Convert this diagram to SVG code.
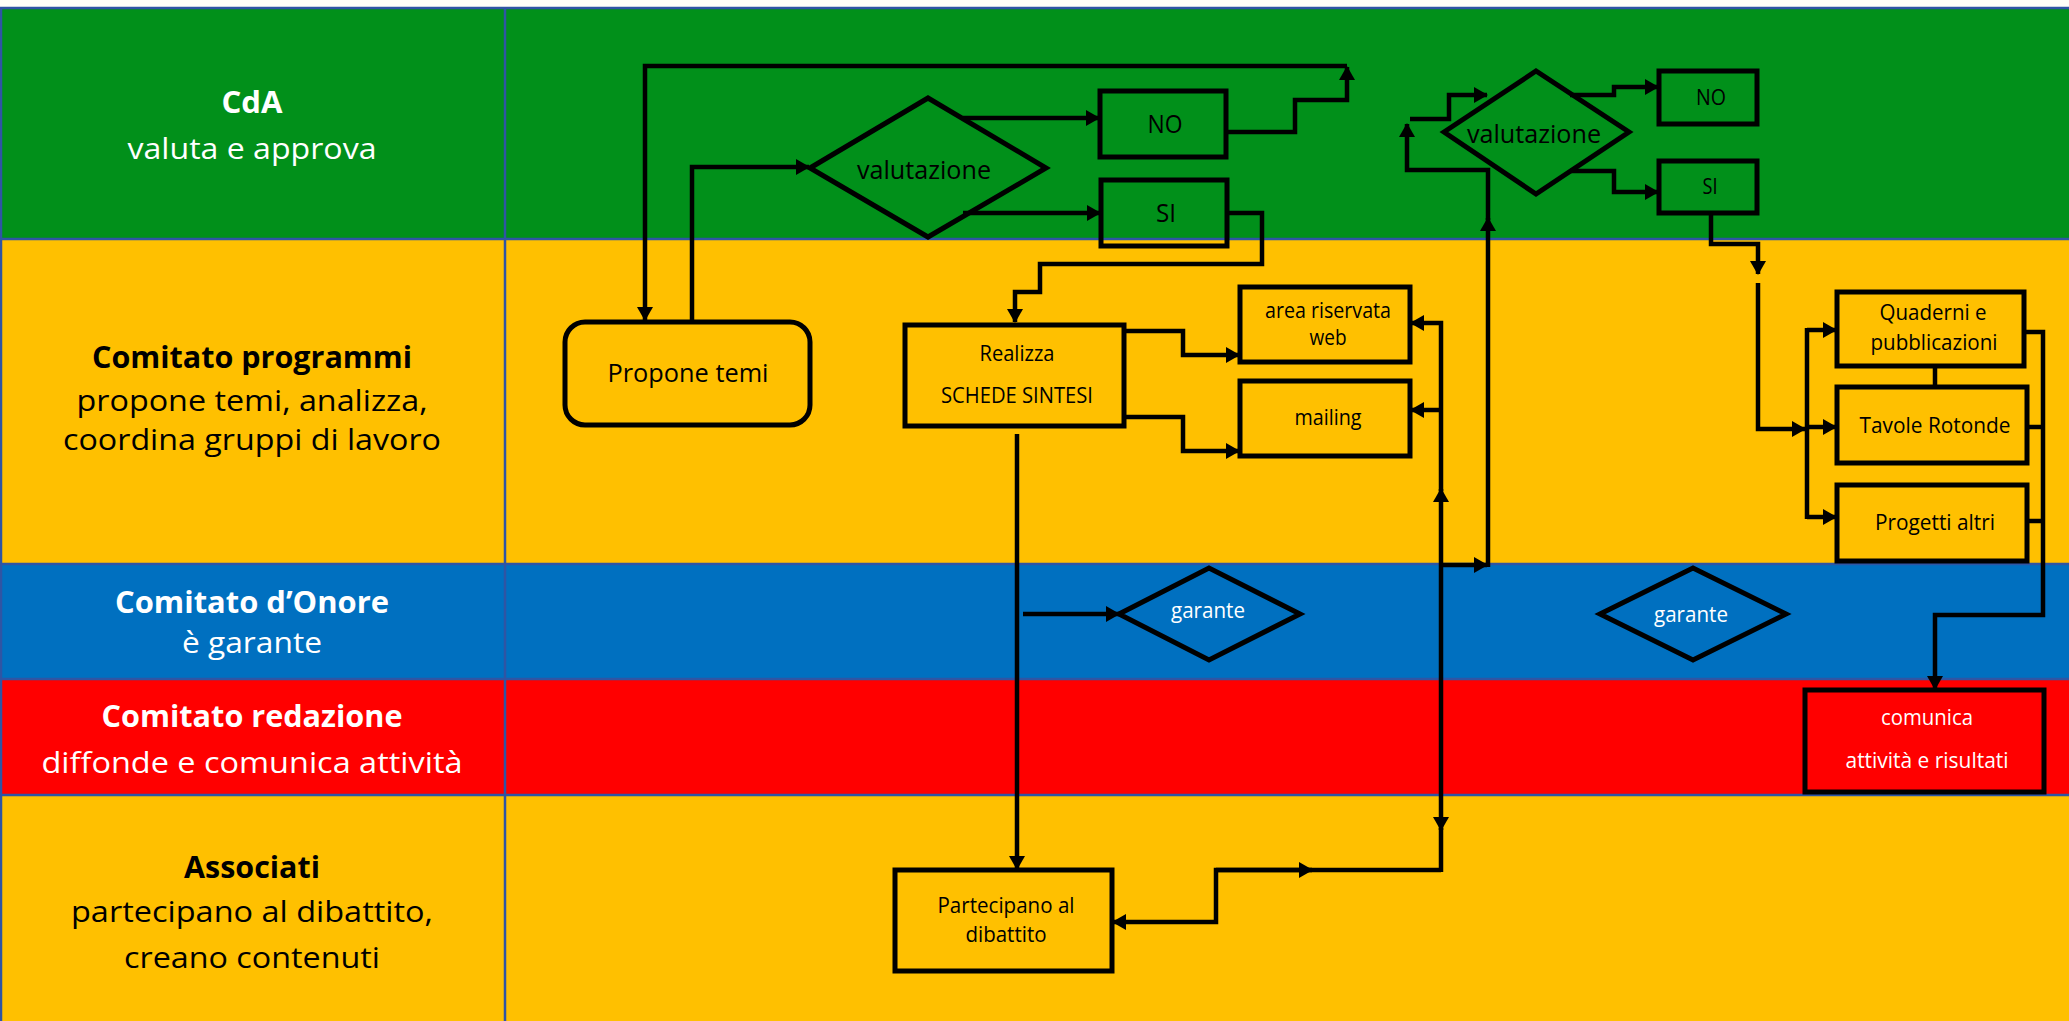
<svg xmlns="http://www.w3.org/2000/svg" width="2069" height="1021" viewBox="0 0 2069 1021">
<defs>
<style>
.lane-line{stroke:#2F55A4;stroke-width:2.5;fill:none}
.box{fill:none;stroke:#000;stroke-width:5}
.c{fill:none;stroke:#000;stroke-width:4.5}
.ca{fill:none;stroke:#000;stroke-width:4.5;marker-end:url(#ah)}
.t{font-family:'Open Sans','Noto Sans',sans-serif;text-anchor:middle;fill:#000}
.w{fill:#fff}
.b{font-weight:bold}
.hd{font-size:30px}
.sub{font-size:29px}
.n25{font-size:25px}
.n21{font-size:21px}
</style>
<marker id="ah" viewBox="0 0 14 16" refX="13" refY="8" markerWidth="14" markerHeight="16" markerUnits="userSpaceOnUse" orient="auto-start-reverse">
<path d="M0,0 L14,8 L0,16 z" fill="#000"/>
</marker>
</defs>

<rect x="0" y="0" width="2069" height="1021" fill="#fffff8"/>
<g id="lanes">
<rect x="0" y="8" width="2069" height="231" fill="#01901A"/>
<rect x="0" y="239" width="2069" height="325" fill="#FFC000"/>
<rect x="0" y="564" width="2069" height="115" fill="#0070C0"/>
<rect x="0" y="679" width="2069" height="116" fill="#FF0000"/>
<rect x="0" y="795" width="2069" height="226" fill="#FFC000"/>
<path class="lane-line" d="M0,8 H2069 M0,239 H2069 M0,564 H2069 M0,679 H2069 M0,795 H2069 M505,8 V1021 M1,8 V1021"/>
</g>

<g id="lane-cda">
<text class="t w b hd" x="252" y="113" textLength="61" lengthAdjust="spacingAndGlyphs">CdA</text>
<text class="t w sub" x="252" y="159" textLength="249" lengthAdjust="spacingAndGlyphs">valuta e approva</text>
</g>
<g id="lane-programmi">
<text class="t b hd" x="252" y="368" textLength="320" lengthAdjust="spacingAndGlyphs">Comitato programmi</text>
<text class="t sub" x="252" y="411" textLength="351" lengthAdjust="spacingAndGlyphs">propone temi, analizza,</text>
<text class="t sub" x="252" y="450" textLength="378" lengthAdjust="spacingAndGlyphs">coordina gruppi di lavoro</text>
</g>
<g id="lane-onore">
<text class="t w b hd" x="252" y="613" textLength="274" lengthAdjust="spacingAndGlyphs">Comitato d’Onore</text>
<text class="t w sub" x="252" y="653" textLength="140" lengthAdjust="spacingAndGlyphs">è garante</text>
</g>
<g id="lane-redazione">
<text class="t w b hd" x="252" y="727" textLength="301" lengthAdjust="spacingAndGlyphs">Comitato redazione</text>
<text class="t w sub" x="252" y="773" textLength="421" lengthAdjust="spacingAndGlyphs">diffonde e comunica attività</text>
</g>
<g id="lane-associati">
<text class="t b hd" x="252" y="878" textLength="136" lengthAdjust="spacingAndGlyphs">Associati</text>
<text class="t sub" x="252" y="922" textLength="362" lengthAdjust="spacingAndGlyphs">partecipano al dibattito,</text>
<text class="t sub" x="252" y="968" textLength="256" lengthAdjust="spacingAndGlyphs">creano contenuti</text>
</g>

<g id="connectors">
<path class="ca" d="M1226,132 H1295 V100 H1347 V67"/>
<path class="ca" d="M1347,66 H645 V320"/>
<path class="ca" d="M692,322 V167 H809"/>
<path class="ca" d="M963,118 H1099"/>
<path class="ca" d="M963,213 H1100"/>
<path class="ca" d="M1228,213 H1262 V264 H1040 V292 H1015 V322"/>
<path class="ca" d="M1125,331 H1183 V355 H1239"/>
<path class="ca" d="M1125,417 H1183 V451 H1239"/>
<path class="ca" d="M1017,434 V869"/>
<path class="ca" d="M1023,614 H1119"/>
<path class="ca" d="M1441,870 H1216 V922 H1113"/>
<path class="ca" d="M1216,870 H1312"/>
<path class="ca" d="M1441,489 V830" style="marker-start:url(#ah)"/>
<path class="c" d="M1441,828 V872"/>
<path class="ca" d="M1441,491 V323 H1411"/>
<path class="ca" d="M1441,410 H1411"/>
<path class="ca" d="M1441,565 H1487"/>
<path class="ca" d="M1488,567 V218"/>
<path class="ca" d="M1488,220 V170 H1407 V124"/>
<path class="ca" d="M1410,119 H1449 V95 H1487"/>
<path class="ca" d="M1570,95 H1614 V87 H1658"/>
<path class="ca" d="M1570,171 H1614 V192 H1658"/>
<path class="ca" d="M1711,213 V244 H1758 V274"/>
<path class="ca" d="M1758,283 V429 H1805"/>
<path class="c" d="M1807,328 V519"/>
<path class="ca" d="M1807,330 H1836"/>
<path class="ca" d="M1807,427 H1836"/>
<path class="ca" d="M1807,517 H1836"/>
<path class="c" d="M1935,366 V387"/>
<path class="ca" d="M2023,332 H2043 V615 H1935 V689"/>
<path class="c" d="M2027,427 H2043 M2027,521 H2043"/>
</g>

<g id="propone-temi">
<rect class="box" x="565" y="322" width="245" height="103" rx="20"/>
<text class="t n25" x="688" y="382" textLength="161" lengthAdjust="spacingAndGlyphs">Propone temi</text>
</g>
<g id="valutazione-1">
<polygon class="box" points="810,168 928,98 1046,168 928,237"/>
<text class="t n25" x="924" y="179" textLength="134" lengthAdjust="spacingAndGlyphs">valutazione</text>
</g>
<g id="no-1">
<rect class="box" x="1100" y="91" width="126" height="66"/>
<text class="t n25" x="1165" y="133" textLength="35" lengthAdjust="spacingAndGlyphs">NO</text>
</g>
<g id="si-1">
<rect class="box" x="1101" y="180" width="126" height="66"/>
<text class="t n25" x="1166" y="222" textLength="20" lengthAdjust="spacingAndGlyphs">SI</text>
</g>
<g id="realizza">
<rect class="box" x="905" y="325" width="219" height="101"/>
<text class="t n21" x="1017" y="361" textLength="75" lengthAdjust="spacingAndGlyphs">Realizza</text>
<text class="t n21" x="1017" y="403" textLength="152" lengthAdjust="spacingAndGlyphs">SCHEDE SINTESI</text>
</g>
<g id="area-riservata">
<rect class="box" x="1240" y="287" width="170" height="75"/>
<text class="t n21" x="1328" y="318" textLength="126" lengthAdjust="spacingAndGlyphs">area riservata</text>
<text class="t n21" x="1328" y="345" textLength="37" lengthAdjust="spacingAndGlyphs">web</text>
</g>
<g id="mailing">
<rect class="box" x="1240" y="381" width="170" height="75"/>
<text class="t n21" x="1328" y="425" textLength="67" lengthAdjust="spacingAndGlyphs">mailing</text>
</g>
<g id="valutazione-2">
<polygon class="box" points="1444,132 1536,71 1629,132 1536,194"/>
<text class="t n25" x="1534" y="143" textLength="134" lengthAdjust="spacingAndGlyphs">valutazione</text>
</g>
<g id="no-2">
<rect class="box" x="1659" y="71" width="98" height="53"/>
<text class="t n21" x="1711" y="105" textLength="30" lengthAdjust="spacingAndGlyphs">NO</text>
</g>
<g id="si-2">
<rect class="box" x="1659" y="161" width="98" height="52"/>
<text class="t n21" x="1710" y="194" textLength="15" lengthAdjust="spacingAndGlyphs">SI</text>
</g>
<g id="quaderni">
<rect class="box" x="1837" y="292" width="187" height="74"/>
<text class="t n21" x="1933" y="320" textLength="107" lengthAdjust="spacingAndGlyphs">Quaderni e</text>
<text class="t n21" x="1934" y="350" textLength="127" lengthAdjust="spacingAndGlyphs">pubblicazioni</text>
</g>
<g id="tavole-rotonde">
<rect class="box" x="1837" y="387" width="190" height="76"/>
<text class="t n21" x="1935" y="433" textLength="151" lengthAdjust="spacingAndGlyphs">Tavole Rotonde</text>
</g>
<g id="progetti-altri">
<rect class="box" x="1837" y="485" width="190" height="76"/>
<text class="t n21" x="1935" y="530" textLength="120" lengthAdjust="spacingAndGlyphs">Progetti altri</text>
</g>
<g id="garante-1">
<polygon class="box" points="1119,614 1209,568 1300,614 1209,660"/>
<text class="t w n21" x="1208" y="618" textLength="74" lengthAdjust="spacingAndGlyphs">garante</text>
</g>
<g id="garante-2">
<polygon class="box" points="1600,614 1693,568 1786,614 1693,660"/>
<text class="t w n21" x="1691" y="622" textLength="74" lengthAdjust="spacingAndGlyphs">garante</text>
</g>
<g id="comunica">
<rect class="box" x="1805" y="690" width="239" height="102"/>
<text class="t w n21" x="1927" y="725" textLength="92" lengthAdjust="spacingAndGlyphs">comunica</text>
<text class="t w n21" x="1927" y="768" textLength="163" lengthAdjust="spacingAndGlyphs">attività e risultati</text>
</g>
<g id="partecipano">
<rect class="box" x="895" y="870" width="217" height="101"/>
<text class="t n21" x="1006" y="913" textLength="137" lengthAdjust="spacingAndGlyphs">Partecipano al</text>
<text class="t n21" x="1006" y="942" textLength="81" lengthAdjust="spacingAndGlyphs">dibattito</text>
</g>
</svg>
